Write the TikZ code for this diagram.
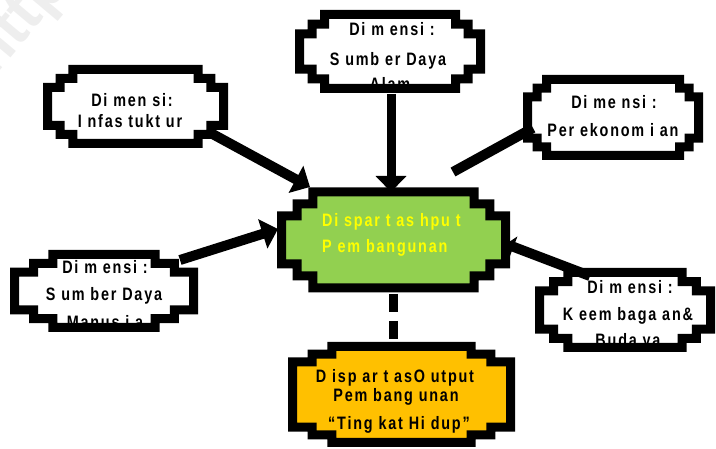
\documentclass[tikz,border=0pt]{standalone}
\usepackage{fontspec}
\setmainfont{Liberation Sans}
\newfontfamily\boxfont{Liberation Sans}[FakeStretch=0.8,LetterSpace=10]
\usetikzlibrary{arrows.meta}

\definecolor{hubgreen}{HTML}{92D050}
\definecolor{outorange}{HTML}{FFC000}
\definecolor{hubtext}{HTML}{FFFF00}
\definecolor{wmark}{HTML}{EEEEEE}

% Octagon with stair-stepped corners.
% #1,#2 centre; #3,#4 half width/height; #5 half side; #6 half top; #7 path options
\newcommand\stairbox[7]{%
  \pgfmathsetmacro\sdx{(#3-#6)/3}%
  \pgfmathsetmacro\sdy{(#4-#5)/3}%
  \path[#7] (#1-#3,#2-#5)
    -- ++(0,-\sdy) -- ++(\sdx,0) -- ++(0,-\sdy) -- ++(\sdx,0) -- ++(0,-\sdy)
    -- (#1+#6,#2-#4)
    -- ++(\sdx,0) -- ++(0,\sdy) -- ++(\sdx,0) -- ++(0,\sdy) -- ++(\sdx,0)
    -- (#1+#3,#2+#5)
    -- ++(0,\sdy) -- ++(-\sdx,0) -- ++(0,\sdy) -- ++(-\sdx,0) -- ++(0,\sdy)
    -- (#1-#6,#2+#4)
    -- ++(-\sdx,0) -- ++(0,-\sdy) -- ++(-\sdx,0) -- ++(0,-\sdy) -- ++(-\sdx,0)
    -- cycle;}

\tikzset{
  rim/.style={draw=black, line width=9pt, miter limit=10},
  lbl/.style={font=\boxfont\bfseries\fontsize{18}{18}\selectfont, inner sep=0pt, anchor=center},
  hublbl/.style={lbl, text=hubtext, anchor=west},
  link/.style={line width=10pt, draw=black},
  bigtip/.style={-{Triangle[length=16pt,width=30pt]}},
  smalltip/.style={-{Triangle[length=8pt,width=22pt]}}
}

\begin{document}
\begin{tikzpicture}[x=1pt,y=-1pt]
\useasboundingbox (0,0) rectangle (716,449);

% faint watermark
\begin{scope}
\clip (0,0) rectangle (716,449);
\node[font=\bfseries\fontsize{62}{62}\selectfont, text=wmark, rotate=50, anchor=south west, inner sep=0pt] (wm) at (4,86) {http};
\end{scope}

% ---- boxes: fill, text, rim ----
% Dimensi: Infrastruktur
\stairbox{135.5}{106.5}{88}{37}{10}{50}{fill=white}
\node[lbl] (tl1) at (132,100) {Di men si:};
\node[lbl] (tl2) at (130,121) {I nfas tukt ur};
\stairbox{135.5}{106.5}{88}{37}{10}{50}{rim}

% Dimensi: Sumber Daya Alam
\stairbox{390}{51.5}{90.5}{37}{8}{53}{fill=white}
\node[lbl] (tc1) at (392,29) {Di m ensi :};
\node[lbl] (tc2) at (388,61) {S umb er Daya};
\node[lbl] (tc3) at (390,84) {Alam};
\stairbox{390}{51.5}{90.5}{37}{8}{53}{rim}

% Dimensi: Perekonomian
\stairbox{613}{117.5}{85.5}{38}{12}{57}{fill=white}
\node[lbl] (tr1) at (614,102) {Di me nsi :};
\node[lbl] (tr2) at (613,130) {Per ekonom i an};
\stairbox{613}{117.5}{85.5}{38}{12}{57}{rim}

% central hub
\stairbox{393.5}{240}{112}{48}{12}{65}{fill=hubgreen}
\node[hublbl] (hub1) at (322,222) {Di spar t as hpu t};
\node[hublbl] (hub2) at (322,248) {P em bangunan};
\stairbox{393.5}{240}{112}{48}{12}{65}{rim}

% Dimensi: Sumber Daya Manusia
\stairbox{104}{291}{89.5}{36.5}{10}{32}{fill=white}
\node[lbl] (bl1) at (105,267) {Di m ensi :};
\node[lbl] (bl2) at (104,296) {S um ber Daya};
\node[lbl] (bl3) at (105,322) {Manus i a};
\stairbox{104}{291}{89.5}{36.5}{10}{32}{rim}

% Dimensi: Kelembagaan & Budaya
\stairbox{625}{310}{85.5}{37.5}{10}{43}{fill=white}
\node[lbl] (br1) at (630,287) {Di m ensi :};
\node[lbl] (br2) at (628,316) {K eem baga an\&};
\node[lbl] (br3) at (628,342) {Buda ya};
\stairbox{625}{310}{85.5}{37.5}{10}{43}{rim}

% output box
\stairbox{401.5}{394.5}{109}{48}{25}{50}{fill=outorange}
\node[lbl] (out1) at (395,378) {D isp ar t asO utput};
\node[lbl] (out2) at (396,397) {Pem bang unan};
\node[lbl] (out3) at (399,425) {“Ting kat Hi dup”};
\stairbox{401.5}{394.5}{109}{48}{25}{50}{rim}

% ---- connectors ----
\coordinate (tlA) at (207,131);
\coordinate (tlB) at (310,187);
\coordinate (tcA) at (391,94);
\coordinate (tcB) at (391,192);
\coordinate (trA) at (533,128);
\coordinate (trB) at (453,172);
\coordinate (blA) at (180,260);
\coordinate (blB) at (278,229);
\coordinate (brA) at (590,276);
\coordinate (brB) at (506,244);
\coordinate (dnA) at (393,292);
\coordinate (dnB) at (393,346);

\draw[link, bigtip] (tlA) -- (tlB);
\draw[link, line width=9pt, bigtip] (tcA) -- (tcB);
\draw[link] (trA) -- (trB);
\draw[link, bigtip] (blA) -- (blB);
\draw[link, smalltip] (brA) -- (brB);
\draw[line width=9pt, dash pattern=on 18pt off 9pt, dash phase=-2pt] (dnA) -- (dnB);
\end{tikzpicture}
\end{document}
